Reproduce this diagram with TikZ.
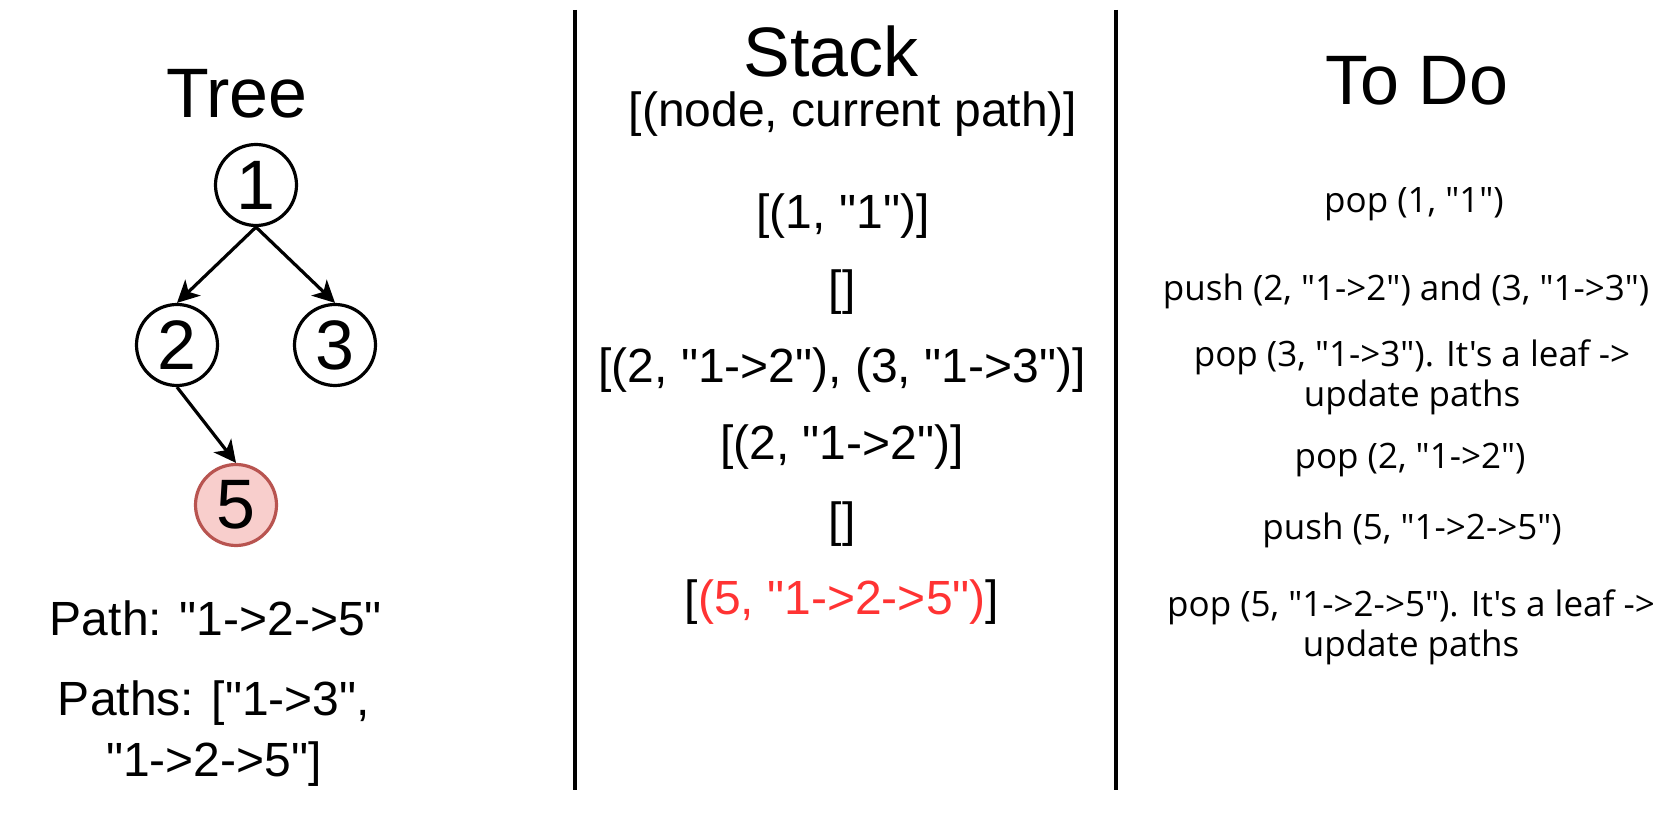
\documentclass[tikz,border=0pt]{standalone}
\usepackage{fontspec}
\setmainfont{Liberation Sans}[Ligatures=TeXOff]
\newfontfamily\tarefafont{Open Sans}
\usetikzlibrary{arrows.meta}
\definecolor{vermelho}{HTML}{FF3333}
\definecolor{rosa}{HTML}{F8CECC}
\definecolor{borda}{HTML}{B85450}

\begin{document}
\begin{tikzpicture}[x=0.5pt,y=-0.5pt, %Início do gráfico
		no/.style={circle,draw,line width=1.6pt,minimum size=40.5pt,inner sep=0pt,font=\fontsize{35}{42}\selectfont},
		titulo/.style={anchor=base,font=\fontsize{35}{42}\selectfont},
		pilha/.style={anchor=base,font=\fontsize{24}{30.5}\selectfont,align=center},
		tarefa/.style={anchor=base,font=\tarefafont\fontsize{17.5}{20}\selectfont,align=center},
		seta/.style={-{Stealth[length=11pt,width=11pt,inset=3pt]},line width=1.6pt}]
	\useasboundingbox (0,0) rectangle (1674,822); %Moldura
		%Divisórias
	\draw[line width=2pt] (575,10) -- (575,790);
	\draw[line width=2pt] (1116,10) -- (1116,790);
		%Árvore
	\node[titulo] (tree) at (237,118) {Tree};
	\node[no] (n1) at (256,185) {1};
	\node[no] (n2) at (177,345) {2};
	\node[no] (n3) at (335,345) {3};
	\node[no,fill=rosa,draw=borda] (n5) at (236,505) {5};
	\draw[seta] (n1.south) -- (n2.north);
	\draw[seta] (n1.south) -- (n3.north);
	\draw[seta] (n2.south) -- (n5.north);
	\node[pilha] (path) at (216,635) {Path: "1->2->5"};
	\node[pilha] (paths) at (214,776) {Paths: ["1->3",\\ "1->2->5"]}; %base = última linha
		%Pilha
	\node[titulo] (stack) at (831,77) {Stack};
	\node[pilha] (legenda) at (853,127) {[(node, current path)]};
	\node[pilha] (s1) at (843,229) {[(1, "1")]};
	\node[pilha] (s2) at (842,305) {[]};
	\node[pilha] (s3) at (842,383) {[(2, "1->2"), (3, "1->3")]};
	\node[pilha] (s4) at (842,460) {[(2, "1->2")]};
	\node[pilha] (s5) at (842,537) {[]};
	\node[pilha] (s6) at (842,614) {[\textcolor{vermelho}{(5, "1->2->5")}]};
		%Tarefas
	\node[titulo] (todo) at (1417,105) {To Do};
	\node[tarefa] (t1) at (1414,213) {pop (1, "1")};
	\node[tarefa] (t2) at (1406,301) {push (2, "1->2") and (3, "1->3")};
	\node[tarefa] (t3) at (1412,407) {pop (3, "1->3"). It's a leaf ->\\ update paths};
	\node[tarefa] (t4) at (1410,469) {pop (2, "1->2")};
	\node[tarefa] (t5) at (1412,540) {push (5, "1->2->5")};
	\node[tarefa] (t6) at (1411,656) {pop (5, "1->2->5"). It's a leaf ->\\ update paths};
\end{tikzpicture}
\end{document}
